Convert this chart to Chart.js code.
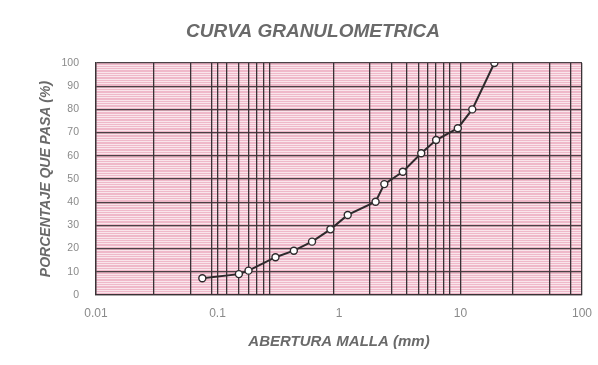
<!DOCTYPE html>
<html>
<head>
<meta charset="utf-8">
<script src="https://cdn.jsdelivr.net/npm/chart.js@4/dist/chart.umd.min.js"></script>
<style>
  html, body { margin: 0; padding: 0; background: #fff; }
  #wrap { width: 598px; height: 365px; }
</style>
</head>
<body>
<div id="wrap"><canvas id="curve"></canvas></div>
<script>
// sieve openings (mm) and percent passing
const ABERTURA = [0.075, 0.15, 0.18, 0.3, 0.425, 0.6, 0.85, 1.18, 2.0, 2.36, 3.35, 4.75, 6.3, 9.5, 12.5, 19.0];
const PASA = [7.2, 9.0, 10.5, 16.3, 19.1, 23.0, 28.3, 34.5, 40.2, 47.8, 53.1, 61.1, 66.8, 71.9, 80.0, 100.0];

// vertical rulings of the paper (1 only carries a label)
const X_GRID = [0.01, 0.03, 0.06, 0.09, 0.1, 0.12, 0.15, 0.18, 0.21, 0.24, 0.27,
  0.9, 1, 1.8, 2.7, 3.6, 4.5, 5.4, 6.3, 7.2, 8.1, 10, 27, 54, 81, 100];
const X_LABELS = [0.01, 0.1, 1, 10, 100];
const Y_GRID = Array.from({ length: 101 }, (_, i) => i);
const Y_LABELS = [0, 10, 20, 30, 40, 50, 60, 70, 80, 90, 100];

const INK = '#3a3236';
const TICK = '#8a8a8a';
const TITLE = '#6a6a6a';
const FONT = "'Liberation Sans', Arial, sans-serif";

const paper = {
  id: 'paper',
  beforeDraw(chart) {
    const { ctx, chartArea: a } = chart;
    ctx.save();
    ctx.fillStyle = '#efb8c9';
    ctx.fillRect(a.left, a.top, a.right - a.left, a.bottom - a.top);
    ctx.restore();
  },
  afterDraw(chart) {
    const { ctx } = chart;
    ctx.save();
    ctx.fillStyle = TITLE;
    ctx.font = `italic bold 19px ${FONT}`;
    ctx.textAlign = 'center';
    ctx.textBaseline = 'middle';
    ctx.fillText('CURVA GRANULOMETRICA', 313, 32);
    ctx.restore();
  },
};

new Chart(document.getElementById('curve'), {
  type: 'line',
  data: {
    datasets: [{
      data: ABERTURA.map((x, i) => ({ x, y: PASA[i] })),
      borderColor: '#2e2a2c',
      borderWidth: 2,
      pointRadius: 3.5,
      pointBorderWidth: 1.4,
      pointBackgroundColor: '#ffffff',
      pointBorderColor: '#2e2a2c',
      tension: 0,
    }],
  },
  plugins: [paper],
  options: {
    responsive: true,
    maintainAspectRatio: false,
    animation: false,
    layout: { padding: { left: 34, top: 63, right: 16, bottom: 10 } },
    plugins: { legend: { display: false }, tooltip: { enabled: false } },
    scales: {
      x: {
        type: 'logarithmic',
        min: 0.01,
        max: 100,
        afterBuildTicks: (s) => { s.ticks = X_GRID.map((v) => ({ value: v })); },
        afterFit: (s) => { s.height = 60; s.paddingLeft = 0; s.paddingRight = 0; },
        ticks: {
          autoSkip: false,
          maxRotation: 0,
          padding: 11,
          color: TICK,
          font: { family: FONT, size: 12 },
          callback: (v) => (X_LABELS.includes(v) ? String(v) : ''),
        },
        grid: {
          drawTicks: false,
          color: (c) => (c.tick.value === 1 ? 'rgba(0,0,0,0)' : INK),
          lineWidth: 1.3,
        },
        border: { color: INK, width: 1.3 },
        title: {
          display: true,
          text: 'ABERTURA MALLA (mm)',
          color: TITLE,
          font: { family: FONT, size: 15, weight: 'bold', style: 'italic' },
          padding: { top: 3 },
        },
      },
      y: {
        min: 0,
        max: 100,
        afterBuildTicks: (s) => { s.ticks = Y_GRID.map((v) => ({ value: v })); },
        afterFit: (s) => { s.width = 62; },
        ticks: {
          autoSkip: false,
          padding: 17,
          color: TICK,
          font: { family: FONT, size: 10.5 },
          callback: (v) => (Y_LABELS.includes(v) ? String(v) : ''),
        },
        // horizontal rulings sit underneath the vertical ones
        grid: {
          z: -2,
          drawTicks: false,
          color: (c) => (c.tick.value % 10 === 0 ? '#4a4246' : 'rgba(255,255,255,0.7)'),
          lineWidth: (c) => (c.tick.value % 10 === 0 ? 1.3 : 0.9),
        },
        border: { color: INK, width: 1.3 },
        title: {
          display: true,
          text: 'PORCENTAJE QUE PASA (%)',
          color: TITLE,
          font: { family: FONT, size: 14, weight: 'bold', style: 'italic' },
          padding: { bottom: 0 },
        },
      },
    },
  },
});
</script>
</body>
</html>
